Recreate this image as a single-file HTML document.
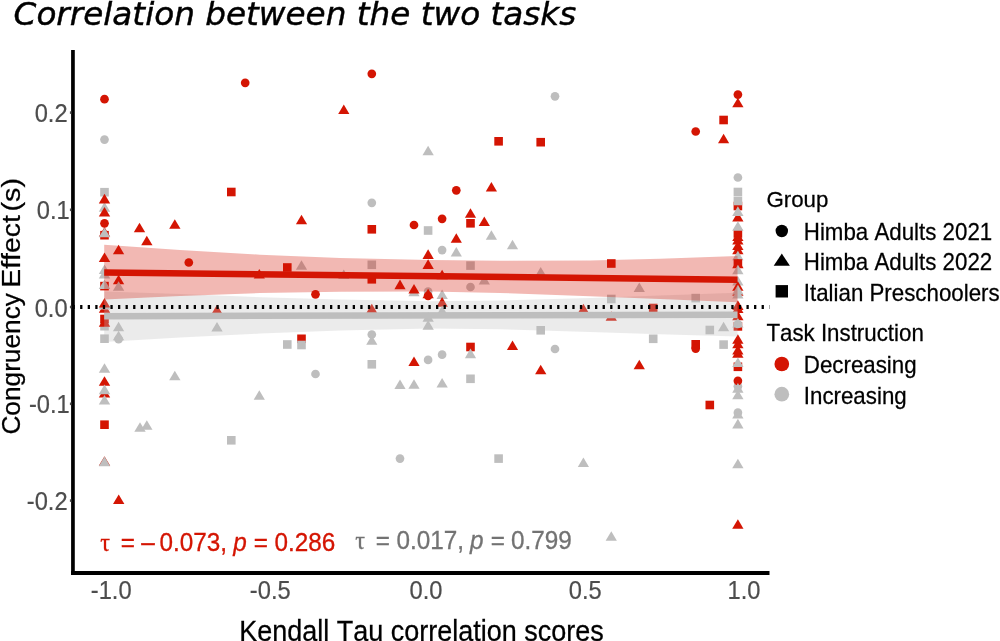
<!DOCTYPE html>
<html lang="en">
<head>
<meta charset="utf-8">
<title>Correlation between the two tasks</title>
<style>
html,body{margin:0;padding:0;background:#fff;}
body{width:1000px;height:641px;overflow:hidden;}
svg{display:block;}
text{font-family:"Liberation Sans",sans-serif;font-kerning:none;}
.title{font-family:"DejaVu Sans","Liberation Sans",sans-serif;font-style:oblique;font-size:32.65px;fill:#000;stroke:#000;stroke-width:0.45px;}
.tick{font-size:23.7px;fill:#4D4D4D;stroke:#4D4D4D;stroke-width:0.2px;}
.axt{font-size:27px;fill:#000;stroke:#000;stroke-width:0.25px;}
.axy{font-size:26.4px;fill:#000;stroke:#000;stroke-width:0.25px;}
.lt{font-size:22.3px;fill:#000;stroke:#000;stroke-width:0.25px;}
.ll{font-size:22.3px;fill:#000;stroke:#000;stroke-width:0.25px;}
.ann{font-size:24.3px;stroke-width:0.3px;}
.sym{font-family:"Liberation Serif","DejaVu Serif",serif;}
</style>
</head>
<body>
<svg width="1000" height="641" viewBox="0 0 1000 641">
<rect x="0" y="0" width="1000" height="641" fill="#ffffff"/>

<!-- title -->
<text class="title" x="13.6" y="24.8">Correlation between the two tasks</text>

<!-- points -->
<g id="points">
<circle cx="104.5" cy="99.2" r="4.35" fill="#D41503"/>
<circle cx="104.5" cy="139.6" r="4.35" fill="#BEBEBE"/>
<rect x="100.2" y="187.9" width="8.6" height="8.6" fill="#BEBEBE"/>
<polygon points="104.5,202.1 110.2,211.7 98.8,211.7" fill="#BEBEBE"/>
<polygon points="104.5,193.8 110.2,203.4 98.8,203.4" fill="#D41503"/>
<polygon points="104.5,207.0 110.2,216.6 98.8,216.6" fill="#D41503"/>
<circle cx="104.5" cy="223.3" r="4.35" fill="#D41503"/>
<rect x="100.2" y="230.9" width="8.6" height="8.6" fill="#D41503"/>
<polygon points="104.5,227.1 110.2,236.7 98.8,236.7" fill="#D41503"/>
<polygon points="104.5,227.7 110.2,237.3 98.8,237.3" fill="#BEBEBE"/>
<polygon points="104.5,252.4 110.2,262.0 98.8,262.0" fill="#D41503"/>
<polygon points="104.5,264.5 110.2,274.1 98.8,274.1" fill="#BEBEBE"/>
<polygon points="104.5,268.9 110.2,278.5 98.8,278.5" fill="#BEBEBE"/>
<rect x="100.2" y="281.8" width="8.6" height="8.6" fill="#D41503"/>
<polygon points="104.5,279.4 110.2,289.0 98.8,289.0" fill="#BEBEBE"/>
<polygon points="104.5,303.2 110.2,312.8 98.8,312.8" fill="#D41503"/>
<polygon points="104.5,299.9 110.2,309.5 98.8,309.5" fill="#BEBEBE"/>
<polygon points="104.5,298.0 110.2,307.6 98.8,307.6" fill="#D41503"/>
<rect x="100.2" y="321.9" width="8.6" height="8.6" fill="#BEBEBE"/>
<rect x="100.2" y="314.7" width="8.6" height="8.6" fill="#D41503"/>
<polygon points="104.5,317.1 110.2,326.7 98.8,326.7" fill="#D41503"/>
<rect x="100.2" y="334.4" width="8.6" height="8.6" fill="#BEBEBE"/>
<polygon points="104.5,363.2 110.2,372.8 98.8,372.8" fill="#BEBEBE"/>
<polygon points="104.5,376.2 110.2,385.8 98.8,385.8" fill="#D41503"/>
<polygon points="104.5,387.9 110.2,397.5 98.8,397.5" fill="#D41503"/>
<polygon points="104.5,384.6 110.2,394.2 98.8,394.2" fill="#BEBEBE"/>
<polygon points="104.5,394.9 110.2,404.5 98.8,404.5" fill="#BEBEBE"/>
<rect x="100.2" y="420.4" width="8.6" height="8.6" fill="#D41503"/>
<polygon points="104.5,456.2 110.2,465.8 98.8,465.8" fill="#D41503"/>
<polygon points="104.5,456.6 110.2,466.2 98.8,466.2" fill="#BEBEBE"/>
<polygon points="118.6,244.7 124.2,254.3 112.9,254.3" fill="#D41503"/>
<polygon points="118.6,274.7 124.2,284.3 112.9,284.3" fill="#D41503"/>
<polygon points="118.6,281.2 124.2,290.8 112.9,290.8" fill="#BEBEBE"/>
<polygon points="118.6,321.7 124.2,331.3 112.9,331.3" fill="#BEBEBE"/>
<circle cx="118.6" cy="339.2" r="4.35" fill="#BEBEBE"/>
<polygon points="118.6,330.7 124.2,340.3 112.9,340.3" fill="#BEBEBE"/>
<polygon points="118.7,494.4 124.4,504.0 113.0,504.0" fill="#D41503"/>
<polygon points="139.5,222.7 145.2,232.3 133.8,232.3" fill="#D41503"/>
<polygon points="140.0,422.2 145.7,431.8 134.3,431.8" fill="#BEBEBE"/>
<polygon points="146.8,235.7 152.5,245.3 141.2,245.3" fill="#D41503"/>
<polygon points="146.8,420.2 152.5,429.8 141.2,429.8" fill="#BEBEBE"/>
<polygon points="174.8,219.2 180.5,228.8 169.2,228.8" fill="#D41503"/>
<polygon points="174.8,370.7 180.5,380.3 169.2,380.3" fill="#BEBEBE"/>
<circle cx="188.8" cy="262.5" r="4.35" fill="#D41503"/>
<polygon points="217.0,304.7 222.7,314.3 211.3,314.3" fill="#D41503"/>
<polygon points="217.0,322.0 222.7,331.6 211.3,331.6" fill="#BEBEBE"/>
<rect x="227.0" y="187.7" width="8.6" height="8.6" fill="#D41503"/>
<rect x="227.0" y="436.0" width="8.6" height="8.6" fill="#BEBEBE"/>
<circle cx="245.2" cy="82.8" r="4.35" fill="#D41503"/>
<polygon points="259.3,269.0 264.9,278.6 253.7,278.6" fill="#D41503"/>
<polygon points="259.3,390.2 264.9,399.8 253.7,399.8" fill="#BEBEBE"/>
<rect x="283.0" y="263.2" width="8.6" height="8.6" fill="#D41503"/>
<rect x="283.0" y="340.2" width="8.6" height="8.6" fill="#BEBEBE"/>
<polygon points="301.5,214.7 307.1,224.3 295.9,224.3" fill="#D41503"/>
<polygon points="301.5,260.2 307.1,269.8 295.9,269.8" fill="#BEBEBE"/>
<rect x="297.2" y="334.5" width="8.6" height="8.6" fill="#D41503"/>
<rect x="297.2" y="340.7" width="8.6" height="8.6" fill="#BEBEBE"/>
<circle cx="315.5" cy="294.3" r="4.35" fill="#D41503"/>
<circle cx="315.5" cy="374.0" r="4.35" fill="#BEBEBE"/>
<polygon points="343.8,104.4 349.4,114.0 338.2,114.0" fill="#D41503"/>
<polygon points="343.8,269.5 349.4,279.1 338.2,279.1" fill="#BEBEBE"/>
<circle cx="371.8" cy="73.8" r="4.35" fill="#D41503"/>
<circle cx="371.8" cy="202.8" r="4.35" fill="#BEBEBE"/>
<rect x="367.5" y="225.0" width="8.6" height="8.6" fill="#D41503"/>
<rect x="367.5" y="260.5" width="8.6" height="8.6" fill="#BEBEBE"/>
<rect x="367.5" y="275.0" width="8.6" height="8.6" fill="#D41503"/>
<polygon points="371.8,303.7 377.4,313.3 366.2,313.3" fill="#D41503"/>
<circle cx="371.8" cy="334.5" r="4.35" fill="#BEBEBE"/>
<polygon points="371.8,335.2 377.4,344.8 366.2,344.8" fill="#BEBEBE"/>
<rect x="367.5" y="360.0" width="8.6" height="8.6" fill="#BEBEBE"/>
<polygon points="400.0,279.6 405.6,289.2 394.4,289.2" fill="#D41503"/>
<polygon points="400.0,379.5 405.6,389.1 394.4,389.1" fill="#BEBEBE"/>
<circle cx="400.0" cy="458.6" r="4.35" fill="#BEBEBE"/>
<circle cx="414.0" cy="225.0" r="4.35" fill="#D41503"/>
<polygon points="414.0,286.7 419.6,296.3 408.4,296.3" fill="#BEBEBE"/>
<polygon points="414.0,284.0 419.6,293.6 408.4,293.6" fill="#D41503"/>
<polygon points="414.0,356.5 419.6,366.1 408.4,366.1" fill="#D41503"/>
<polygon points="414.0,379.2 419.6,388.8 408.4,388.8" fill="#BEBEBE"/>
<polygon points="428.1,145.7 433.8,155.3 422.5,155.3" fill="#BEBEBE"/>
<rect x="423.8" y="226.2" width="8.6" height="8.6" fill="#BEBEBE"/>
<polygon points="428.1,249.3 433.8,258.9 422.5,258.9" fill="#D41503"/>
<polygon points="428.1,259.3 433.8,268.9 422.5,268.9" fill="#D41503"/>
<circle cx="428.1" cy="291.5" r="4.35" fill="#BEBEBE"/>
<circle cx="428.1" cy="295.8" r="4.35" fill="#D41503"/>
<polygon points="428.1,288.7 433.8,298.3 422.5,298.3" fill="#D41503"/>
<polygon points="428.1,312.1 433.8,321.7 422.5,321.7" fill="#BEBEBE"/>
<polygon points="428.1,320.1 433.8,329.7 422.5,329.7" fill="#BEBEBE"/>
<circle cx="428.1" cy="359.9" r="4.35" fill="#BEBEBE"/>
<circle cx="442.1" cy="218.8" r="4.35" fill="#D41503"/>
<circle cx="442.1" cy="250.1" r="4.35" fill="#BEBEBE"/>
<polygon points="442.1,269.7 447.8,279.3 436.5,279.3" fill="#D41503"/>
<polygon points="442.1,289.5 447.8,299.1 436.5,299.1" fill="#BEBEBE"/>
<polygon points="442.1,297.1 447.8,306.7 436.5,306.7" fill="#D41503"/>
<polygon points="442.1,305.7 447.8,315.3 436.5,315.3" fill="#BEBEBE"/>
<circle cx="442.1" cy="354.7" r="4.35" fill="#BEBEBE"/>
<polygon points="442.1,378.0 447.8,387.6 436.5,387.6" fill="#BEBEBE"/>
<circle cx="456.3" cy="190.3" r="4.35" fill="#D41503"/>
<polygon points="456.3,233.2 461.9,242.8 450.7,242.8" fill="#D41503"/>
<polygon points="456.3,246.9 461.9,256.5 450.7,256.5" fill="#BEBEBE"/>
<polygon points="470.5,208.2 476.1,217.8 464.9,217.8" fill="#D41503"/>
<rect x="466.2" y="219.0" width="8.6" height="8.6" fill="#D41503"/>
<rect x="466.2" y="261.3" width="8.6" height="8.6" fill="#BEBEBE"/>
<circle cx="470.5" cy="287.0" r="4.35" fill="#BEBEBE"/>
<rect x="466.2" y="342.7" width="8.6" height="8.6" fill="#D41503"/>
<polygon points="470.5,348.6 476.1,358.2 464.9,358.2" fill="#BEBEBE"/>
<rect x="466.2" y="374.5" width="8.6" height="8.6" fill="#BEBEBE"/>
<polygon points="484.3,216.5 489.9,226.1 478.7,226.1" fill="#D41503"/>
<polygon points="484.3,274.8 489.9,284.4 478.7,284.4" fill="#BEBEBE"/>
<polygon points="491.4,182.0 497.0,191.6 485.8,191.6" fill="#D41503"/>
<polygon points="491.4,230.2 497.0,239.8 485.8,239.8" fill="#BEBEBE"/>
<rect x="494.3" y="137.0" width="8.6" height="8.6" fill="#D41503"/>
<rect x="494.3" y="454.3" width="8.6" height="8.6" fill="#BEBEBE"/>
<polygon points="512.5,239.7 518.1,249.3 506.9,249.3" fill="#BEBEBE"/>
<polygon points="512.5,340.5 518.1,350.1 506.9,350.1" fill="#D41503"/>
<rect x="536.4" y="137.9" width="8.6" height="8.6" fill="#D41503"/>
<polygon points="540.7,267.0 546.4,276.6 535.1,276.6" fill="#BEBEBE"/>
<rect x="536.4" y="326.0" width="8.6" height="8.6" fill="#BEBEBE"/>
<polygon points="540.7,364.7 546.4,374.3 535.1,374.3" fill="#D41503"/>
<circle cx="555.0" cy="96.3" r="4.35" fill="#BEBEBE"/>
<circle cx="555.0" cy="349.0" r="4.35" fill="#BEBEBE"/>
<polygon points="583.4,303.7 589.0,313.3 577.8,313.3" fill="#D41503"/>
<polygon points="583.4,457.4 589.0,467.0 577.8,467.0" fill="#BEBEBE"/>
<rect x="607.0" y="259.2" width="8.6" height="8.6" fill="#D41503"/>
<rect x="607.0" y="294.7" width="8.6" height="8.6" fill="#BEBEBE"/>
<polygon points="611.3,311.2 616.9,320.8 605.6,320.8" fill="#D41503"/>
<polygon points="611.3,531.2 616.9,540.8 605.6,540.8" fill="#BEBEBE"/>
<polygon points="639.3,282.5 644.9,292.1 633.6,292.1" fill="#BEBEBE"/>
<polygon points="639.3,359.7 644.9,369.3 633.6,369.3" fill="#D41503"/>
<rect x="648.9" y="303.7" width="8.6" height="8.6" fill="#D41503"/>
<rect x="648.9" y="334.5" width="8.6" height="8.6" fill="#BEBEBE"/>
<circle cx="695.7" cy="131.5" r="4.35" fill="#D41503"/>
<rect x="691.4" y="293.8" width="8.6" height="8.6" fill="#BEBEBE"/>
<rect x="691.4" y="340.0" width="8.6" height="8.6" fill="#D41503"/>
<circle cx="695.7" cy="348.6" r="4.35" fill="#D41503"/>
<rect x="705.5" y="325.7" width="8.6" height="8.6" fill="#BEBEBE"/>
<rect x="705.5" y="400.7" width="8.6" height="8.6" fill="#D41503"/>
<rect x="719.3" y="115.7" width="8.6" height="8.6" fill="#D41503"/>
<polygon points="723.6,133.7 729.2,143.3 718.0,143.3" fill="#D41503"/>
<polygon points="723.6,321.7 729.2,331.3 718.0,331.3" fill="#BEBEBE"/>
<rect x="719.3" y="340.3" width="8.6" height="8.6" fill="#BEBEBE"/>
<circle cx="737.9" cy="94.6" r="4.35" fill="#D41503"/>
<polygon points="737.9,97.7 743.5,107.3 732.2,107.3" fill="#D41503"/>
<circle cx="737.9" cy="177.5" r="4.35" fill="#BEBEBE"/>
<rect x="733.6" y="201.7" width="8.6" height="8.6" fill="#D41503"/>
<rect x="733.6" y="187.7" width="8.6" height="8.6" fill="#BEBEBE"/>
<rect x="733.6" y="196.7" width="8.6" height="8.6" fill="#BEBEBE"/>
<polygon points="737.9,211.9 743.5,221.5 732.2,221.5" fill="#D41503"/>
<polygon points="737.9,206.3 743.5,215.9 732.2,215.9" fill="#BEBEBE"/>
<rect x="733.6" y="229.2" width="8.6" height="8.6" fill="#D41503"/>
<polygon points="737.9,221.2 743.5,230.8 732.2,230.8" fill="#BEBEBE"/>
<polygon points="737.9,231.4 743.5,241.0 732.2,241.0" fill="#D41503"/>
<polygon points="737.9,235.0 743.5,244.6 732.2,244.6" fill="#D41503"/>
<polygon points="737.9,240.4 743.5,250.0 732.2,250.0" fill="#D41503"/>
<polygon points="737.9,244.6 743.5,254.2 732.2,254.2" fill="#D41503"/>
<polygon points="737.9,250.7 743.5,260.3 732.2,260.3" fill="#BEBEBE"/>
<rect x="733.6" y="259.2" width="8.6" height="8.6" fill="#D41503"/>
<polygon points="737.9,258.7 743.5,268.3 732.2,268.3" fill="#D41503"/>
<polygon points="737.9,264.7 743.5,274.3 732.2,274.3" fill="#BEBEBE"/>
<polygon points="737.9,275.9 743.5,285.5 732.2,285.5" fill="#BEBEBE"/>
<polygon points="737.9,281.2 743.5,290.8 732.2,290.8" fill="#D41503"/>
<polygon points="737.9,286.2 743.5,295.8 732.2,295.8" fill="#D41503"/>
<polygon points="737.9,284.8 743.5,294.4 732.2,294.4" fill="#BEBEBE"/>
<polygon points="737.9,289.0 743.5,298.6 732.2,298.6" fill="#BEBEBE"/>
<polygon points="737.9,310.7 743.5,320.3 732.2,320.3" fill="#D41503"/>
<polygon points="737.9,303.4 743.5,313.0 732.2,313.0" fill="#D41503"/>
<polygon points="737.9,300.3 743.5,309.9 732.2,309.9" fill="#D41503"/>
<rect x="733.6" y="322.1" width="8.6" height="8.6" fill="#D41503"/>
<circle cx="737.9" cy="324.0" r="4.35" fill="#BEBEBE"/>
<polygon points="737.9,317.9 743.5,327.5 732.2,327.5" fill="#BEBEBE"/>
<polygon points="737.9,348.2 743.5,357.8 732.2,357.8" fill="#D41503"/>
<polygon points="737.9,344.9 743.5,354.5 732.2,354.5" fill="#D41503"/>
<polygon points="737.9,338.7 743.5,348.3 732.2,348.3" fill="#D41503"/>
<polygon points="737.9,334.2 743.5,343.8 732.2,343.8" fill="#D41503"/>
<rect x="733.6" y="362.5" width="8.6" height="8.6" fill="#D41503"/>
<polygon points="737.9,357.5 743.5,367.1 732.2,367.1" fill="#BEBEBE"/>
<circle cx="737.9" cy="386.3" r="4.35" fill="#BEBEBE"/>
<circle cx="737.9" cy="380.8" r="4.35" fill="#D41503"/>
<polygon points="737.9,383.1 743.5,392.7 732.2,392.7" fill="#BEBEBE"/>
<polygon points="737.9,389.7 743.5,399.3 732.2,399.3" fill="#BEBEBE"/>
<circle cx="737.9" cy="412.7" r="4.35" fill="#BEBEBE"/>
<polygon points="737.9,408.9 743.5,418.5 732.2,418.5" fill="#BEBEBE"/>
<polygon points="737.9,418.8 743.5,428.4 732.2,428.4" fill="#BEBEBE"/>
<polygon points="737.9,458.7 743.5,468.3 732.2,468.3" fill="#BEBEBE"/>
<polygon points="737.9,519.2 743.5,528.8 732.2,528.8" fill="#D41503"/>
</g>

<!-- smooths -->
<polygon points="104.2,291.5 180,294 260,297.2 340,299.5 430,301.3 500,300.5 590,298 660,295.5 737.5,292.8 737.5,336.4 660,334.2 590,332 500,329.2 430,328.5 340,330.5 260,333.6 180,337.5 104.2,342" fill="#BEBEBE" fill-opacity="0.3"/>
<line x1="104.2" y1="316.2" x2="737.5" y2="314.8" stroke="#BEBEBE" stroke-width="6.5"/>
<polygon points="104.2,244.7 180,250 260,254.7 340,258 430,260 500,260.8 590,260.5 660,258.7 737.5,256 737.5,302.3 660,299 590,296.2 500,293 430,291.5 340,291.8 260,293 180,296 104.2,299.6" fill="#D41503" fill-opacity="0.3"/>
<line x1="104.2" y1="272.4" x2="737.5" y2="279.7" stroke="#D41503" stroke-width="6.5"/>

<!-- zero line -->
<line x1="72.55" y1="307" x2="769.5" y2="307" stroke="#000" stroke-width="3.9" stroke-dasharray="2.3 5.272"/>

<!-- axes -->
<line x1="72.95" y1="50" x2="72.95" y2="574.9" stroke="#000" stroke-width="3.7"/>
<line x1="71.1" y1="573" x2="769.5" y2="573" stroke="#000" stroke-width="3.8"/>
<g stroke="#4D4D4D" stroke-width="2.6">
<line x1="69.9" y1="112.6" x2="71.4" y2="112.6"/>
<line x1="69.9" y1="209.8" x2="71.4" y2="209.8"/>
<line x1="69.9" y1="307" x2="71.4" y2="307"/>
<line x1="69.9" y1="403.8" x2="71.4" y2="403.8"/>
<line x1="69.9" y1="500.6" x2="71.4" y2="500.6"/>
</g>

<!-- y tick labels -->
<text class="tick" transform="translate(0 122.1) scale(1 1.07)" x="67.6" y="0" text-anchor="end">0.2</text>
<text class="tick" transform="translate(0 219.3) scale(1 1.07)" x="69.8" y="0" text-anchor="end">0.1</text>
<text class="tick" transform="translate(0 316.5) scale(1 1.07)" x="67.6" y="0" text-anchor="end">0.0</text>
<text class="tick" transform="translate(0 413.3) scale(1 1.07)" x="69.8" y="0" text-anchor="end">-0.1</text>
<text class="tick" transform="translate(0 510.1) scale(1 1.07)" x="67.6" y="0" text-anchor="end">-0.2</text>

<!-- x tick labels -->
<text class="tick" transform="translate(0 599.0) scale(1 1.07)" x="111.2" y="0" text-anchor="middle">-1.0</text>
<text class="tick" transform="translate(0 599.0) scale(1 1.07)" x="270.3" y="0" text-anchor="middle">-0.5</text>
<text class="tick" transform="translate(0 599.0) scale(1 1.07)" x="426" y="0" text-anchor="middle">0.0</text>
<text class="tick" transform="translate(0 599.0) scale(1 1.07)" x="585.2" y="0" text-anchor="middle">0.5</text>
<text class="tick" transform="translate(0 599.0) scale(1 1.07)" x="744.1" y="0" text-anchor="middle">1.0</text>

<!-- axis titles -->
<text class="axt" transform="translate(0 640.9) scale(1 1.06)" x="239.2" y="0">Kendall Tau correlation scores</text>
<text class="axy" transform="translate(20.0 434.6) rotate(-90)" y="0"><tspan x="0" textLength="141.5" lengthAdjust="spacingAndGlyphs">Congruency</tspan> <tspan x="146.8" textLength="72.6" lengthAdjust="spacingAndGlyphs">Effect</tspan> <tspan x="223" textLength="33.6" lengthAdjust="spacingAndGlyphs">(s)</tspan></text>

<!-- annotations -->
<text class="ann" transform="translate(0 551.2) scale(1 1.07)" y="0" fill="#D41503" stroke="#D41503"><tspan class="sym" x="100.2">τ</tspan><tspan x="120.8">=</tspan><tspan x="141.3">–</tspan><tspan x="159.4">0.073,</tspan><tspan x="233.3" font-style="italic">p</tspan><tspan x="253.8">=</tspan><tspan x="274.5">0.286</tspan></text>
<text class="ann" transform="translate(0 549.2) scale(1 1.07)" y="0" fill="#737373" stroke="#737373"><tspan class="sym" x="355.2">τ</tspan><tspan x="375.8">=</tspan><tspan x="396.4">0.017,</tspan><tspan x="470.1" font-style="italic">p</tspan><tspan x="490.8">=</tspan><tspan x="511">0.799</tspan></text>

<!-- legend -->
<text class="lt" transform="translate(0 207.0) scale(1 1.02)" x="766.4" y="0">Group</text>
<circle cx="781.8" cy="231" r="6.2" fill="#000"/>
<polygon points="781.8,253.6 789.9,265.8 773.7,265.8" fill="#000"/>
<rect x="775.6" y="285.1" width="12.4" height="12.4" fill="#000"/>
<text class="ll" transform="translate(0 239.9) scale(1 1.04)" x="803.8" y="0">Himba Adults 2021</text>
<text class="ll" transform="translate(0 270.3) scale(1 1.04)" x="803.8" y="0">Himba Adults 2022</text>
<text class="ll" transform="translate(0 300.6) scale(1 1.04)" x="803.8" y="0">Italian Preschoolers</text>
<text class="lt" transform="translate(0 340.6) scale(1 1.04)" x="766.4" y="0">Task Instruction</text>
<circle cx="781.8" cy="364" r="7.35" fill="#D41503"/>
<circle cx="781.8" cy="394.2" r="7.35" fill="#BEBEBE"/>
<text class="ll" transform="translate(0 373.1) scale(1 1.04)" x="803.8" y="0">Decreasing</text>
<text class="ll" transform="translate(0 403.6) scale(1 1.04)" x="803.8" y="0">Increasing</text>
</svg>
</body>
</html>
